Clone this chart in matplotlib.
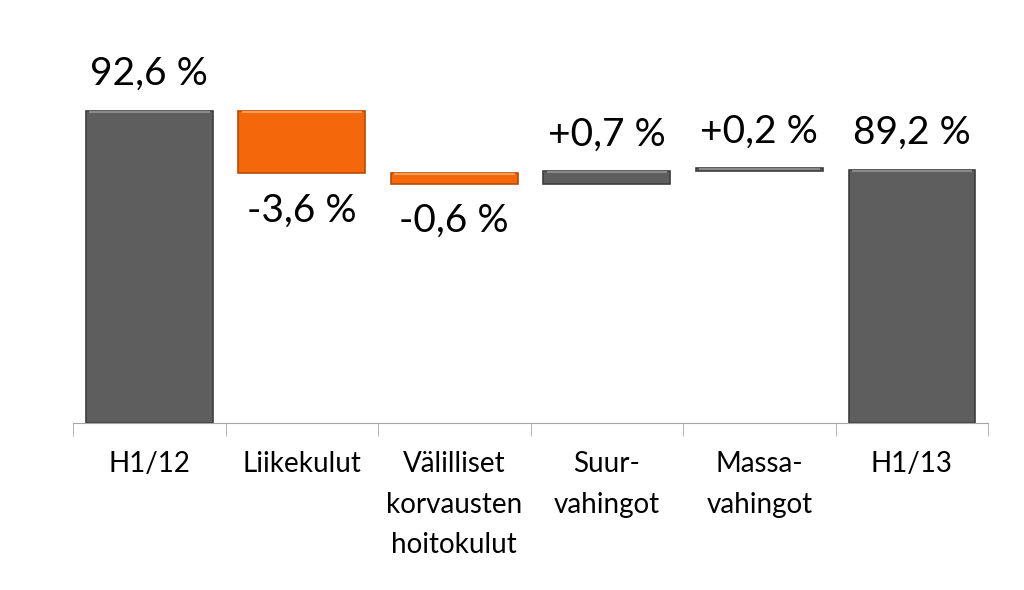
import matplotlib
matplotlib.use("Agg")
from matplotlib import pyplot as plt
import numpy as np

# waterfall data (combined ratio, %)
categories = ["H1/12", "Liikekulut", "Välilliset\nkorvausten\nhoitokulut",
              "Suur-\nvahingot", "Massa-\nvahingot", "H1/13"]
changes = [92.6, -3.6, -0.6, 0.7, 0.2, 89.2]
labels = ["92,6 %", "-3,6 %", "-0,6 %", "+0,7 %", "+0,2 %", "89,2 %"]
is_total = [True, False, False, False, False, True]

gray = "#5e5e5e"
orange = "#f4680b"
base = 74.6

plt.rcParams['font.family'] = ['Lato', 'DejaVu Sans']

fig = plt.figure(figsize=(10.24, 5.9), dpi=100)
ax = fig.add_axes([0.0713, 0.283, 0.8936, 0.717])

x = np.arange(len(categories))
w = 0.83
running = 0.0
for i, (c, tot) in enumerate(zip(changes, is_total)):
    if tot:
        bottom, height = base, c - base
        color, edge, light = gray, "#3e3e3e", "#8a8a8a"
        running = c
    else:
        bottom, height = running, c
        running = running + c
        color = orange if c < 0 else gray
        edge = "#b84a05" if c < 0 else "#3e3e3e"
        light = "#f99a55" if c < 0 else "#8a8a8a"
    ax.bar(x[i], height, bottom=bottom, width=w, color=color,
           edgecolor=edge, linewidth=1.2, zorder=2)
    top = max(bottom, bottom + height)
    low = min(bottom, bottom + height)
    # bevel highlight along the top edge
    ax.hlines(top - 0.06, x[i] - w / 2 + 0.02, x[i] + w / 2 - 0.02,
              color=light, linewidth=1.5, zorder=3)
    if tot or c > 0:
        ax.annotate(labels[i], (x[i], top), xytext=(0, 18.5), textcoords="offset points",
                    ha="center", va="baseline", fontsize=28)
    else:
        ax.annotate(labels[i], (x[i], low), xytext=(0, -35), textcoords="offset points",
                    ha="center", va="baseline", fontsize=28)

ax.set_xlim(-0.5, len(categories) - 0.5)
ax.set_ylim(base, base + 0.717 * 590 / 17.35)
for s in ["top", "right", "left"]:
    ax.spines[s].set_visible(False)
ax.spines["bottom"].set_color("#a6a6a6")
ax.set_yticks([])
ax.set_xticks(x)
ax.set_xticklabels(categories, fontsize=20, linespacing=1.7, va="top")
ax.tick_params(axis="x", which="major", length=0, pad=20)
ax.set_xticks(np.arange(-0.5, len(categories)), minor=True)
ax.tick_params(axis="x", which="minor", length=9, color="#a6a6a6")

fig.savefig("out.png", dpi=100)
